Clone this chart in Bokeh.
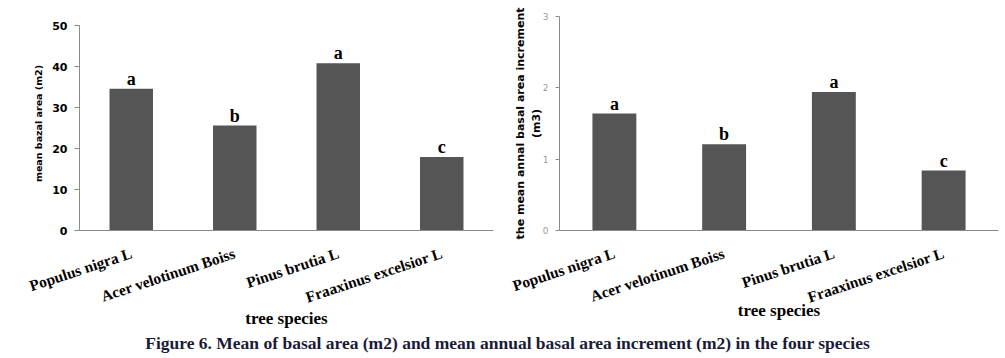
from bokeh.plotting import figure
from bokeh.models import ColumnDataSource, Div, FactorRange, Range1d, FixedTicker
from bokeh.layouts import row, column
from bokeh.embed import file_html
from bokeh.resources import INLINE
from bokeh.core.properties import value

species = ["Populus nigra L", "Acer velotinum Boiss", "Pinus brutia L", "Fraaxinus excelsior L"]
basal_area = [34.6, 25.6, 40.8, 17.9]
annual_increment = [1.64, 1.21, 1.94, 0.84]
letters = ["a", "b", "a", "c"]
basal_ticks = [0, 10, 20, 30, 40, 50]
incr_ticks = [0, 1, 2, 3]
caption = "Figure 6. Mean of basal area (m2) and mean annual basal area increment (m2) in the four species"

src = ColumnDataSource(dict(species=species, basal=basal_area, incr=annual_increment, letters=letters))

SERIF = "'Liberation Serif', serif"
SANS = "'DejaVu Sans', sans-serif"
BAR = "#555555"
AXIS = "#8a8a8a"

# both plot frames share top/bottom; left chart's 50 sits 9px below the frame top
FRAME_H = 214
LEFT_TOP_GAP = 9
left_end = basal_ticks[-1] * FRAME_H / (FRAME_H - LEFT_TOP_GAP)


def style(p):
    p.xgrid.grid_line_color = None
    p.ygrid.grid_line_color = None
    p.outline_line_color = None
    p.background_fill_color = "white"
    p.border_fill_color = "white"
    xa = p.xaxis[0]
    xa.axis_line_color = AXIS
    xa.major_tick_line_color = None
    xa.minor_tick_line_color = None
    xa.major_label_orientation = 0.32
    xa.major_label_text_font = SERIF
    xa.major_label_text_font_style = "bold"
    xa.major_label_text_font_size = "15.5px"
    xa.major_label_text_color = "black"
    xa.axis_label = "tree species"
    xa.axis_label_text_font = SERIF
    xa.axis_label_text_font_style = "bold"
    xa.axis_label_text_font_size = "17px"
    xa.axis_label_text_color = "black"
    ya = p.yaxis[0]
    ya.axis_line_color = AXIS
    ya.major_tick_line_color = AXIS
    ya.minor_tick_line_color = None
    ya.major_tick_in = 0
    ya.major_tick_out = 5


# ---- left chart
p1 = figure(x_range=FactorRange(*species), y_range=Range1d(0, left_end), width=508, height=330,
            output_backend="svg", toolbar_location=None,
            min_border_left=79, min_border_right=15, min_border_top=16, min_border_bottom=100)
p1.vbar(x="species", top="basal", width=0.42, source=src, fill_color=BAR, line_color=None)
p1.text(x="species", y="basal", text="letters", source=src, y_offset=-10,
        text_align="center", text_baseline="alphabetic",
        text_font=value("Liberation Serif"), text_font_style="bold", text_font_size="18px",
        text_color="black")
style(p1)
p1.yaxis[0].ticker = FixedTicker(ticks=basal_ticks)
p1.yaxis[0].bounds = (basal_ticks[0], basal_ticks[-1])
p1.yaxis[0].major_label_text_font = SANS
p1.yaxis[0].major_label_text_font_style = "bold"
p1.yaxis[0].major_label_text_font_size = "11px"
p1.yaxis[0].major_label_text_color = "black"
p1.yaxis[0].major_label_standoff = 7
p1.yaxis[0].axis_label = "mean bazal area (m2)"
p1.yaxis[0].axis_label_text_font = SANS
p1.yaxis[0].axis_label_text_font_style = "bold"
p1.yaxis[0].axis_label_text_font_size = "9.5px"
p1.yaxis[0].axis_label_text_color = "black"
p1.yaxis[0].axis_label_standoff = 5
p1.xaxis[0].major_label_standoff = 16
p1.xaxis[0].axis_label_standoff = -8

# ---- right chart
p2 = figure(x_range=FactorRange(*species), y_range=Range1d(0, 3), width=497, height=330,
            output_backend="svg", toolbar_location=None,
            min_border_left=51, min_border_right=7, min_border_top=16, min_border_bottom=100)
p2.vbar(x="species", top="incr", width=0.4, source=src, fill_color=BAR, line_color=None)
p2.text(x="species", y="incr", text="letters", source=src, y_offset=-10,
        text_align="center", text_baseline="alphabetic",
        text_font=value("Liberation Serif"), text_font_style="bold", text_font_size="18px",
        text_color="black")
style(p2)
p2.yaxis[0].ticker = FixedTicker(ticks=incr_ticks)
p2.yaxis[0].major_label_text_font = SANS
p2.yaxis[0].major_label_text_font_size = "9px"
p2.yaxis[0].major_label_text_color = "#9a9a9a"
p2.yaxis[0].major_label_standoff = 7
p2.yaxis[0].major_tick_out = 4
p2.yaxis[0].axis_label = "the mean annal basal area increment\n(m3)"
p2.yaxis[0].axis_label_text_font = SANS
p2.yaxis[0].axis_label_text_font_style = "bold"
p2.yaxis[0].axis_label_text_font_size = "11px"
p2.yaxis[0].axis_label_text_color = "black"
p2.yaxis[0].axis_label_standoff = -3
p2.xaxis[0].major_label_standoff = 16
p2.xaxis[0].axis_label_standoff = -16

cap = Div(text=caption, width=1005, height=28,
          styles={"text-align": "center", "font-family": SERIF, "font-weight": "bold",
                  "font-size": "17.5px", "color": "#1b1b36", "width": "1005px",
                  "line-height": "16px"})

layout = column(row(p1, p2, spacing=0), cap, spacing=0)

open("out.html", "w").write(file_html(layout, INLINE))
